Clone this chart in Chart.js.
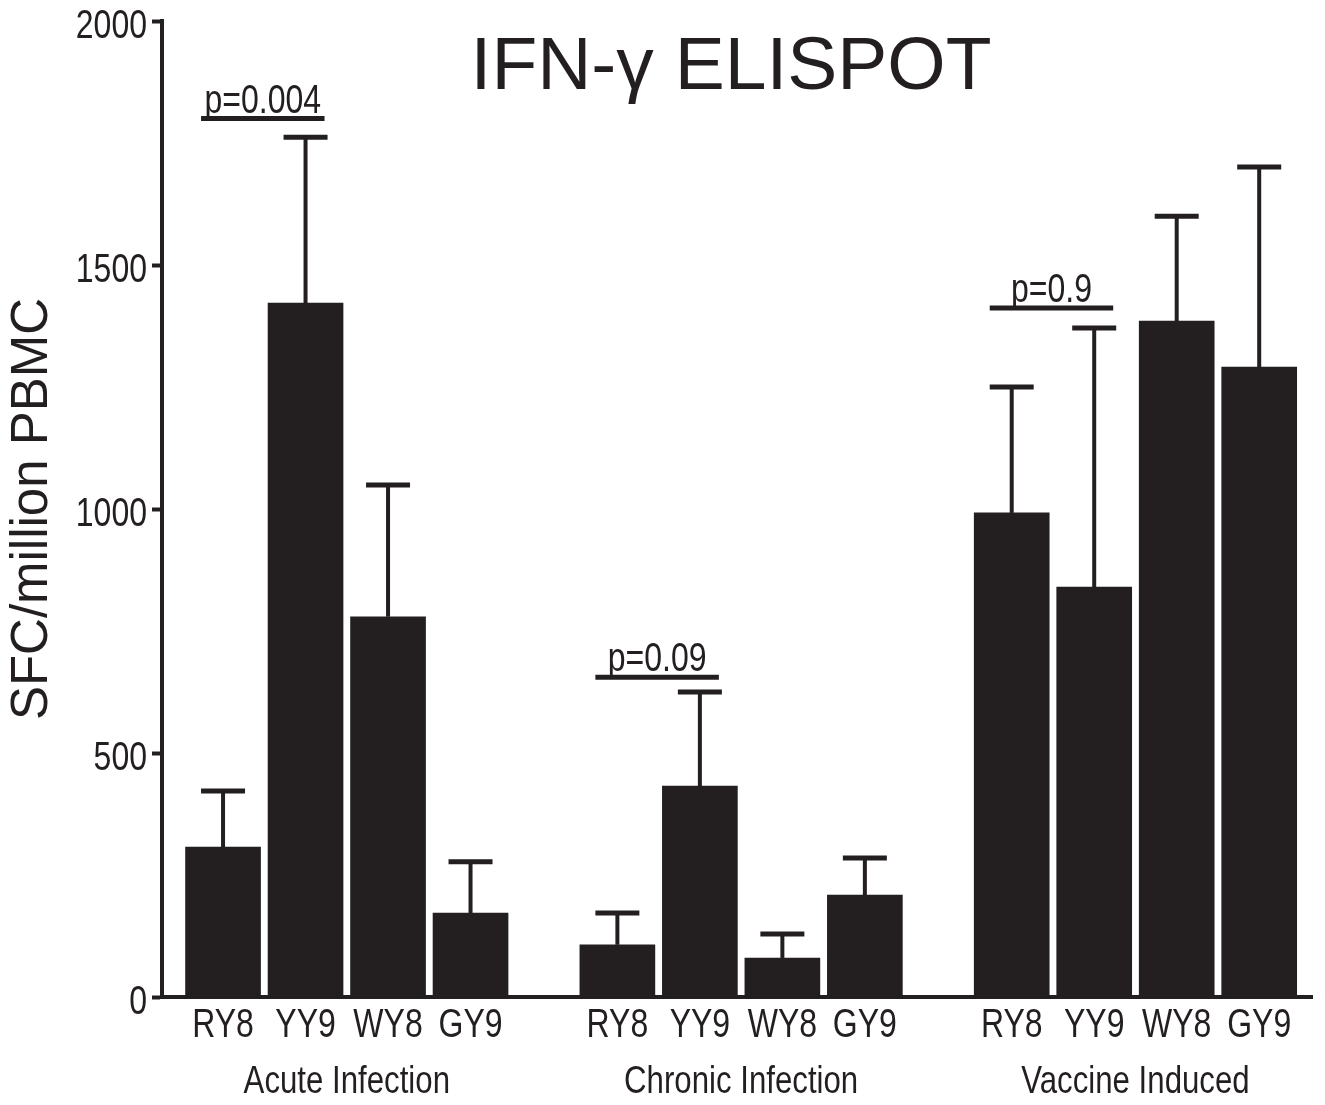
<!DOCTYPE html>
<html>
<head>
<meta charset="utf-8">
<script src="https://cdn.jsdelivr.net/npm/chart.js@4"></script>
<style>
  html, body { margin: 0; padding: 0; background: #fff; }
  #wrap { width: 1325px; height: 1105px; position: relative; }
</style>
</head>
<body>
<div id="wrap"><canvas id="chart"></canvas></div>
<script>
const groups = ['Acute Infection', 'Chronic Infection', 'Vaccine Induced'];
const peptides = ['RY8', 'YY9', 'WY8', 'GY9'];
// mean SFC/million PBMC, one row per group
const means = [
  [307, 1422, 779, 172],
  [107, 432, 80, 209],
  [992, 840, 1385, 1291]
];
// top of the error bar (mean + SEM)
const upper = [
  [422, 1762, 1049, 277],
  [172, 625, 129, 285],
  [1250, 1371, 1600, 1701]
];
const pLabels = ['p=0.004', 'p=0.09', 'p=0.9'];
const pHeights = [1800, 655, 1412];
const yTicks = [0, 500, 1000, 1500, 2000];

const INK = '#231f20';
const FONT = '"Liberation Sans", Arial, sans-serif';
const SQUEEZE = 0.8;   // the small labels are set in a condensed face
const GROUP_STEP = 4.78; // slot units between first bars of two groups

const barX = (g, i) => g * GROUP_STEP + i;
const bars = [];
const tops = [];
const barNames = [];
groups.forEach((g, gi) => {
  peptides.forEach((p, i) => {
    bars.push({ x: barX(gi, i), y: means[gi][i] });
    tops.push(upper[gi][i]);
    barNames.push(p);
  });
});
const tickPos = bars.map(b => b.x);
const groupPos = groups.map((g, gi) => barX(gi, 1.5));

function narrowText(ctx, text, x, y, size, align) {
  ctx.save();
  ctx.font = size + 'px ' + FONT;
  ctx.fillStyle = INK;
  ctx.textBaseline = 'alphabetic';
  ctx.textAlign = align;
  ctx.translate(x, y);
  ctx.scale(SQUEEZE, 1);
  ctx.fillText(text, 0, 0);
  ctx.restore();
}

const errorBars = {
  id: 'errorBars',
  afterDatasetsDraw(chart) {
    const ctx = chart.ctx;
    const y = chart.scales.y;
    const meta = chart.getDatasetMeta(0);
    ctx.save();
    ctx.strokeStyle = INK;
    meta.data.forEach((el, k) => {
      const yt = y.getPixelForValue(tops[k]);
      ctx.lineWidth = 4;
      ctx.beginPath();
      ctx.moveTo(el.x, el.y);
      ctx.lineTo(el.x, yt);
      ctx.stroke();
      ctx.lineWidth = 5;
      ctx.beginPath();
      ctx.moveTo(el.x - 22, yt);
      ctx.lineTo(el.x + 22, yt);
      ctx.stroke();
    });
    // significance brackets
    groups.forEach((g, gi) => {
      const a = meta.data[gi * 4];
      const b = meta.data[gi * 4 + 1];
      const yy = y.getPixelForValue(pHeights[gi]);
      const x0 = a.x - 22, x1 = b.x + 19;
      ctx.lineWidth = 5;
      ctx.beginPath();
      ctx.moveTo(x0, yy);
      ctx.lineTo(x1, yy);
      ctx.stroke();
      narrowText(ctx, pLabels[gi], (x0 + x1) / 2, yy - 6, 40, 'center');
    });
    ctx.restore();
  }
};

const axisLabels = {
  id: 'axisLabels',
  afterDraw(chart) {
    const ctx = chart.ctx;
    const { x, x2, y } = chart.scales;
    const base = chart.chartArea.bottom;
    tickPos.forEach((v, k) => {
      narrowText(ctx, barNames[k], x.getPixelForValue(v), base + 40, 40, 'center');
    });
    groupPos.forEach((v, gi) => {
      narrowText(ctx, groups[gi], x2.getPixelForValue(v), base + 96, 39, 'center');
    });
    yTicks.forEach(v => {
      narrowText(ctx, String(v), chart.chartArea.left - 15, y.getPixelForValue(v) + 17, 40, 'right');
    });
    ctx.save();
    ctx.fillStyle = INK;
    ctx.font = '75px ' + FONT;
    ctx.textAlign = 'center';
    ctx.textBaseline = 'alphabetic';
    ctx.fillText('IFN-\u03b3 ELISPOT', 731, 89);
    ctx.restore();
  }
};

new Chart(document.getElementById('chart'), {
  type: 'bar',
  data: {
    datasets: [{
      data: bars,
      backgroundColor: INK,
      borderWidth: 0,
      barThickness: 75
    }]
  },
  options: {
    responsive: true,
    maintainAspectRatio: false,
    animation: false,
    layout: { padding: { top: 21, right: 13, bottom: 0, left: 0 } },
    plugins: {
      legend: { display: false },
      tooltip: { enabled: false }
    },
    scales: {
      x: {
        type: 'linear',
        position: 'bottom',
        offset: false,
        weight: 0,
        min: -0.74,
        max: 13.2,
        afterBuildTicks: s => { s.ticks = tickPos.map(v => ({ value: v })); },
        afterFit: s => { s.height = 48; },
        grid: { display: false, drawTicks: false },
        border: { color: INK, width: 4 },
        ticks: { display: false }
      },
      x2: {
        type: 'linear',
        position: 'bottom',
        offset: false,
        weight: 1,
        min: -0.74,
        max: 13.2,
        afterBuildTicks: s => { s.ticks = groupPos.map(v => ({ value: v })); },
        afterFit: s => { s.height = 60; },
        grid: { display: false, drawTicks: false },
        border: { display: false },
        ticks: { display: false }
      },
      y: {
        min: 0,
        max: 2000,
        afterBuildTicks: s => { s.ticks = yTicks.map(v => ({ value: v })); },
        afterFit: s => { s.width = 162; },
        grid: {
          drawOnChartArea: false,
          color: INK,
          tickLength: 10,
          tickWidth: 4
        },
        border: { color: INK, width: 4 },
        ticks: { display: false },
        title: {
          display: true,
          text: 'SFC/million PBMC',
          color: INK,
          font: { family: FONT, size: 51 },
          padding: { top: 2, bottom: 0 }
        }
      }
    }
  },
  plugins: [errorBars, axisLabels]
});
</script>
</body>
</html>
